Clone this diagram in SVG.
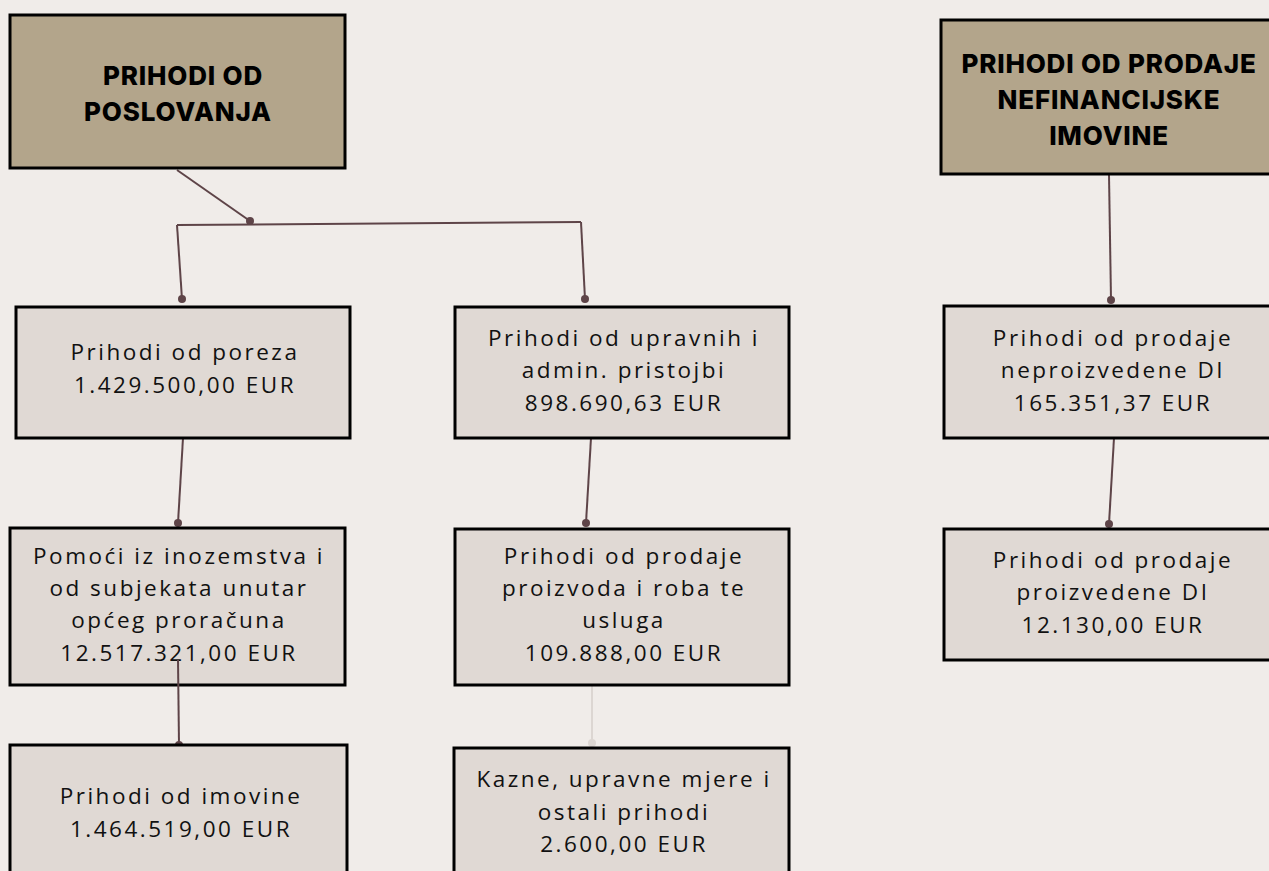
<svg xmlns="http://www.w3.org/2000/svg" width="1269" height="871" viewBox="0 0 1269 871">
<style>
.head{fill:#b3a58b;stroke:#000;stroke-width:3}
.node{fill:#e0d9d4;stroke:#000;stroke-width:3}
.ht{font-family:Inter,"Liberation Sans",sans-serif;font-weight:800;font-size:26px;letter-spacing:0.8px;fill:#000;text-anchor:middle}
.nt{font-family:"Open Sans","Liberation Sans",sans-serif;font-size:22.5px;letter-spacing:2.5px;fill:#111;text-anchor:middle}
.c{stroke:#5e4448;stroke-width:2;fill:none}
.d{fill:#5e4448}
</style>
<rect width="1269" height="871" fill="#f0ece9"/>
<g id="connectors">
<path class="c" d="M177,170 L250,221"/><circle class="d" cx="250" cy="221" r="4"/>
<path class="c" d="M177,225 L581,222"/>
<path class="c" d="M177,225 L182,299"/><circle class="d" cx="182" cy="299" r="4"/>
<path class="c" d="M581,222 L585,299"/><circle class="d" cx="585" cy="299" r="4"/>
<path class="c" d="M183,438 L178,523"/><circle class="d" cx="178" cy="523" r="4"/>
<path class="c" d="M591,438 L586,523"/><circle class="d" cx="586" cy="523" r="4"/>
<path class="c" d="M1109,175 L1111,300"/><circle class="d" cx="1111" cy="300" r="4"/>
<path class="c" d="M1114,438 L1109,524"/><circle class="d" cx="1109" cy="524" r="4"/>
<path d="M592,685 L592,743" stroke="#dcd6d2" stroke-width="2"/><circle cx="592" cy="743" r="4" fill="#dcd6d2"/>
</g>
<g id="n1"><rect class="head" x="10" y="15" width="335" height="153"/>
<text class="ht" x="183" y="85">PRIHODI OD</text><text class="ht" x="178" y="121">POSLOVANJA</text></g>
<g id="n2"><rect class="head" x="941" y="20" width="335" height="154"/>
<text class="ht" x="1109" y="73">PRIHODI OD PRODAJE</text><text class="ht" x="1109" y="109">NEFINANCIJSKE</text><text class="ht" x="1109" y="145">IMOVINE</text></g>
<g id="n3"><rect class="node" x="16" y="307" width="334" height="131"/>
<text class="nt" x="185" y="360">Prihodi od poreza</text><text class="nt" x="185" y="393">1.429.500,00 EUR</text></g>
<g id="n4"><rect class="node" x="455" y="307" width="334" height="131"/>
<text class="nt" x="624" y="346">Prihodi od upravnih i</text><text class="nt" x="624" y="378">admin. pristojbi</text><text class="nt" x="624" y="411">898.690,63 EUR</text></g>
<g id="n5"><rect class="node" x="10" y="528" width="335" height="157"/>
<text class="nt" x="179" y="564">Pomoći iz inozemstva i</text><text class="nt" x="179" y="596">od subjekata unutar</text><text class="nt" x="179" y="628">općeg proračuna</text><text class="nt" x="179" y="661">12.517.321,00 EUR</text></g>
<path class="c" d="M178,660 L179,745"/><circle class="d" cx="179" cy="745" r="4"/>
<g id="n6"><rect class="node" x="455" y="529" width="334" height="156"/>
<text class="nt" x="624" y="564">Prihodi od prodaje</text><text class="nt" x="624" y="596">proizvoda i roba te</text><text class="nt" x="624" y="628">usluga</text><text class="nt" x="624" y="661">109.888,00 EUR</text></g>
<g id="n7"><rect class="node" x="10" y="745" width="337" height="140"/>
<text class="nt" x="181" y="804">Prihodi od imovine</text><text class="nt" x="181" y="837">1.464.519,00 EUR</text></g>
<g id="n8"><rect class="node" x="454" y="748" width="335" height="140"/>
<text class="nt" x="624" y="787">Kazne, upravne mjere i</text><text class="nt" x="624" y="820">ostali prihodi</text><text class="nt" x="624" y="852">2.600,00 EUR</text></g>
<g id="n9"><rect class="node" x="944" y="306" width="332" height="132"/>
<text class="nt" x="1113" y="346">Prihodi od prodaje</text><text class="nt" x="1113" y="378">neproizvedene DI</text><text class="nt" x="1113" y="411">165.351,37 EUR</text></g>
<g id="n10"><rect class="node" x="944" y="529" width="332" height="131"/>
<text class="nt" x="1113" y="568">Prihodi od prodaje</text><text class="nt" x="1113" y="600">proizvedene DI</text><text class="nt" x="1113" y="633">12.130,00 EUR</text></g>
</svg>
